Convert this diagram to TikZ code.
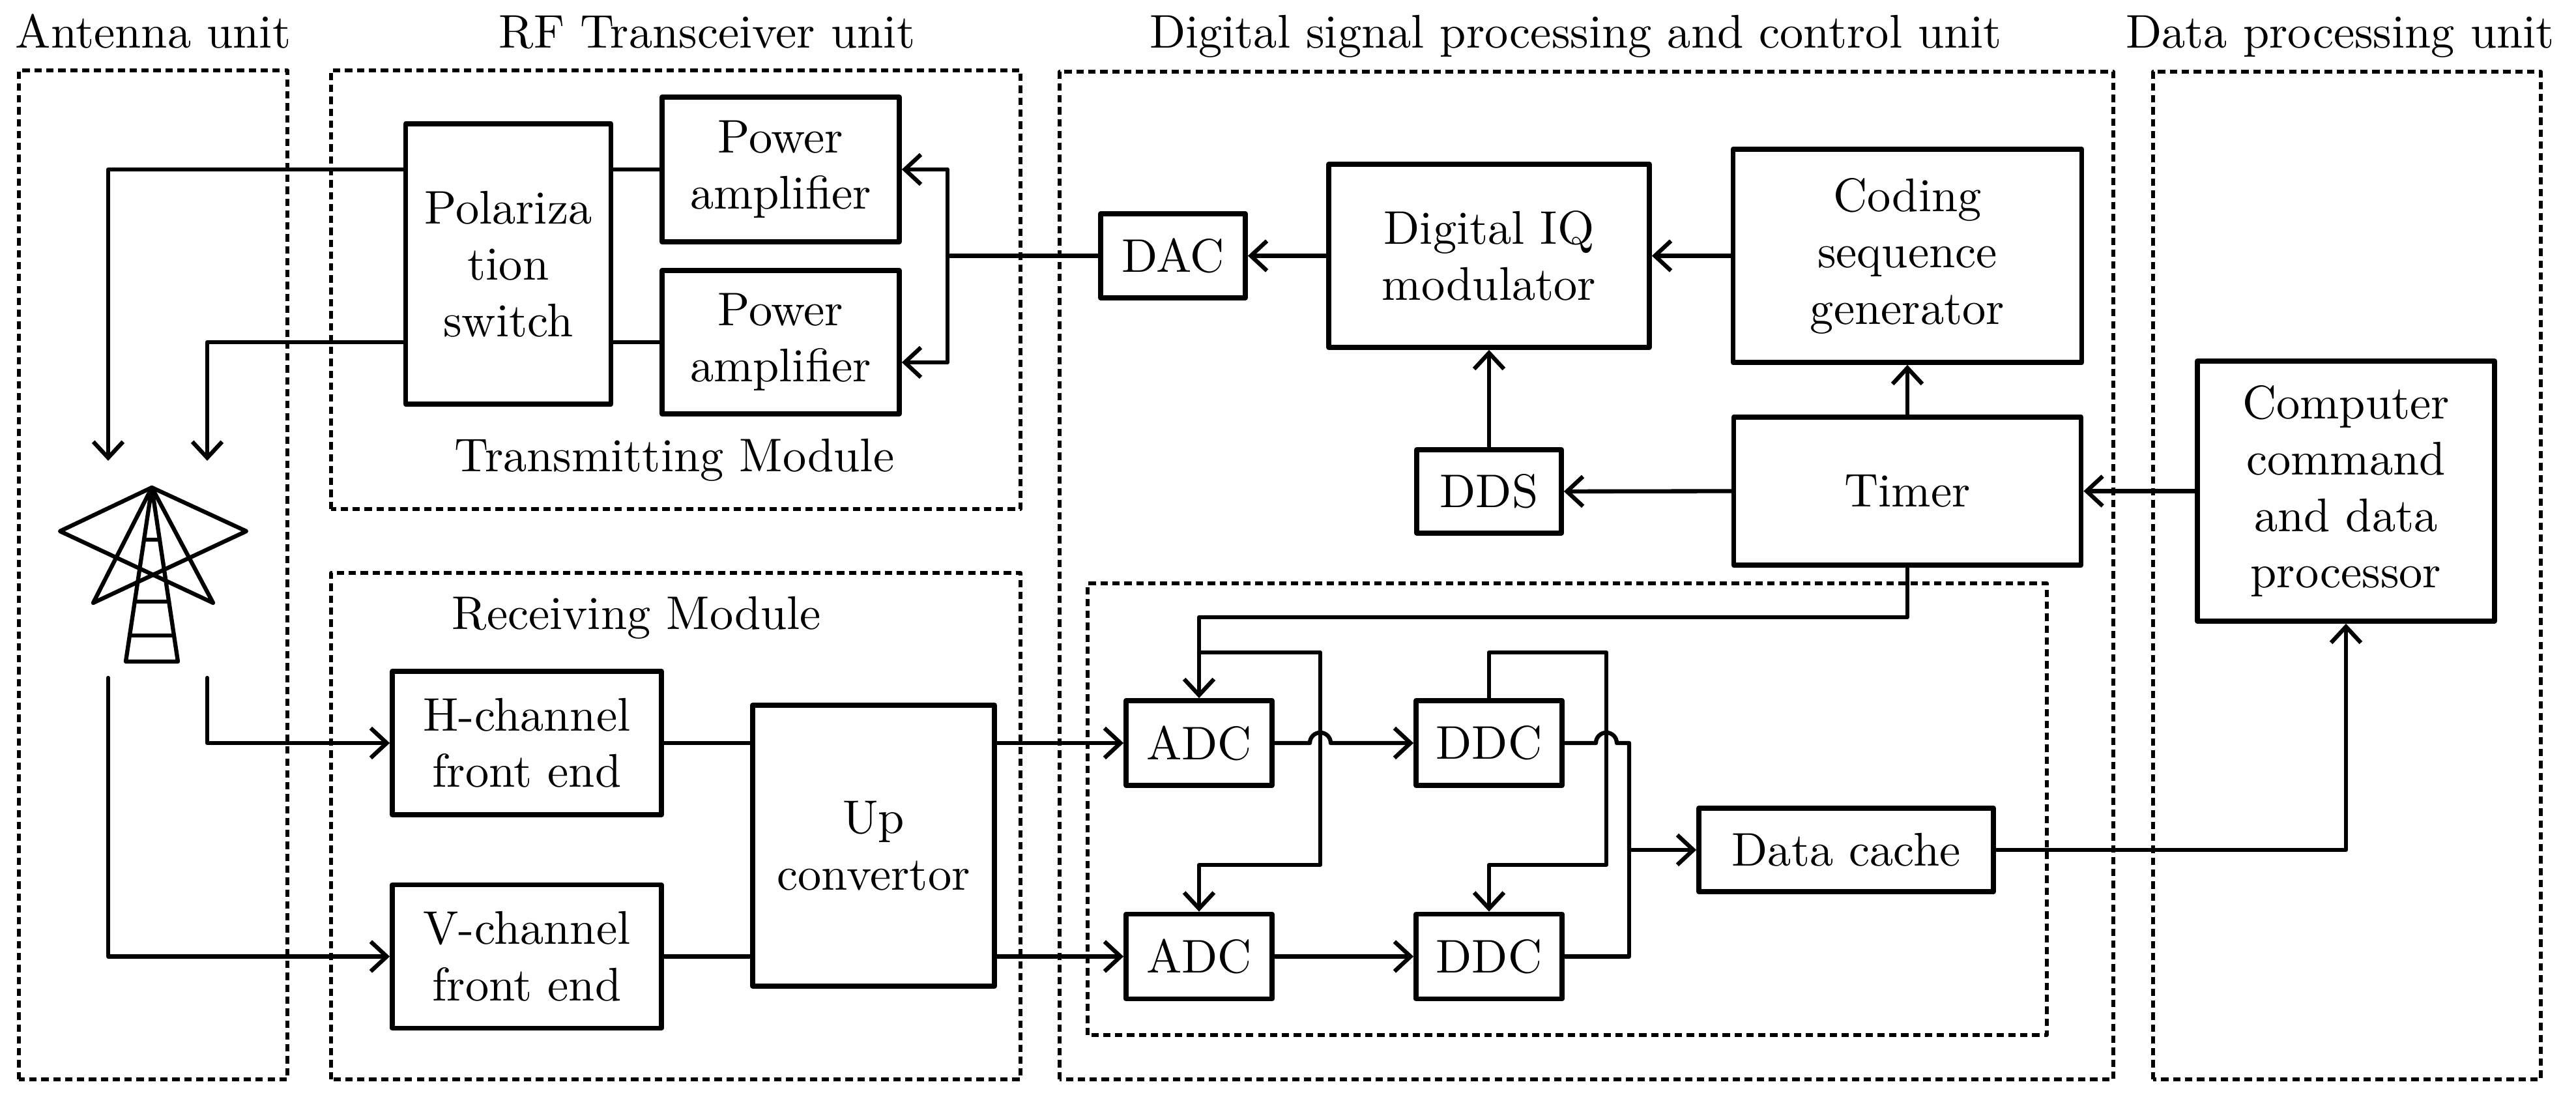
\documentclass[tikz,border=0pt]{standalone}
\usepackage{fontspec}
\usepackage{tikz}
\usetikzlibrary{arrows.meta,calc}

\begin{document}
\begin{tikzpicture}[line cap=round,line join=round,>={Straight Barb[length=3.5pt,width=6.5pt]},x=0.5cm,y=0.5cm,
    font=\fontsize{10.3}{12.3}\selectfont,
    blk/.style={draw,line width=1.1pt,align=center,inner sep=0pt},
    unit/.style={line width=0.8pt,dash pattern=on 1.6pt off 1pt,line cap=butt},
    wire/.style={line width=0.9pt}]
                \useasboundingbox (0,0) rectangle (39.53,16.8);
                % unit frames
                \draw [unit] (0.29,0.24) rectangle (4.41,15.72);
                \draw [unit] (5.08,8.99) rectangle (15.66,15.72);
                \draw [unit] (5.08,0.24) rectangle (15.66,8.01);
                \draw [unit] (16.26,0.24) rectangle (32.43,15.70);
                \draw [unit] (16.69,0.92) rectangle (31.41,7.85);
                \draw [unit] (33.04,0.24) rectangle (38.99,15.70);
                \node [anchor=base] (tant) at (2.35,16.06) {Antenna unit};
                \node [anchor=base] (trf) at (10.85,16.06) {RF Transceiver unit};
                \node [anchor=base] (tdsp) at (24.18,16.06) {Digital signal processing and control unit};
                \node [anchor=base] (tdata) at (35.91,16.06) {Data processing unit};
                \node [anchor=base] (ttx) at (10.35,9.56) {Transmitting Module};
                \node [anchor=base] (trx) at (9.77,7.14) {Receiving Module};
                % blocks
                \node [blk,minimum width=1.575cm,minimum height=2.15cm] (pol) at (7.80,12.75) {Polariza\\tion\\switch};
                \node [blk,minimum width=1.82cm,minimum height=1.11cm] (pa1) at (11.98,14.20) {Power\\amplifier};
                \node [blk,minimum width=1.82cm,minimum height=1.1cm] (pa2) at (11.98,11.55) {Power\\amplifier};
                \node [blk,minimum width=1.11cm,minimum height=0.645cm] (dac) at (18.00,12.875) {DAC};
                \node [blk,minimum width=2.46cm,minimum height=1.405cm] (iq) at (22.85,12.875) {Digital IQ\\modulator};
                \node [blk,minimum width=2.675cm,minimum height=1.635cm] (cod) at (29.27,12.875) {Coding\\sequence\\generator};
                \node [blk,minimum width=1.11cm,minimum height=0.64cm] (dds) at (22.85,9.26) {DDS};
                \node [blk,minimum width=2.665cm,minimum height=1.135cm] (tim) at (29.27,9.265) {Timer};
                \node [blk,minimum width=2.28cm,minimum height=1.995cm] (comp) at (36.00,9.265) {Computer\\command\\and data\\processor};
                \node [blk,minimum width=2.065cm,minimum height=1.1cm] (hch) at (8.085,5.40) {H-channel\\front end};
                \node [blk,minimum width=2.065cm,minimum height=1.1cm] (vch) at (8.085,2.125) {V-channel\\front end};
                \node [blk,minimum width=1.855cm,minimum height=2.155cm] (up) at (13.405,3.825) {Up\\convertor};
                \node [blk,minimum width=1.12cm,minimum height=0.65cm] (adc1) at (18.40,5.40) {ADC};
                \node [blk,minimum width=1.12cm,minimum height=0.65cm] (adc2) at (18.40,2.125) {ADC};
                \node [blk,minimum width=1.12cm,minimum height=0.65cm] (ddc1) at (22.85,5.40) {DDC};
                \node [blk,minimum width=1.12cm,minimum height=0.65cm] (ddc2) at (22.85,2.125) {DDC};
                \node [blk,minimum width=2.26cm,minimum height=0.64cm] (cache) at (28.33,3.76) {Data cache};
                % antenna
                \coordinate (apex) at (2.33,9.32);
                \coordinate (lp) at (0.92,8.65);
                \coordinate (rp) at (3.78,8.65);
                \coordinate (ll) at (1.43,7.55);
                \coordinate (rl) at (3.27,7.55);
                \coordinate (bl) at (1.93,6.65);
                \coordinate (br) at (2.73,6.65);
                \draw [wire] (apex) -- (lp) -- (rl) -- cycle;
                \draw [wire] (apex) -- (rp) -- (ll) -- cycle;
                \draw [wire] (apex) -- (bl) -- (br) -- cycle;
                \foreach \t in {0.3,0.655,0.85}
                    \draw [wire] ($(apex)!\t!(bl)$) -- ($(apex)!\t!(br)$);
                % transmit side
                \coordinate (ant1) at (1.66,9.73);
                \coordinate (ant2) at (3.18,9.73);
                \coordinate (split) at (14.54,12.875);
                \draw [wire,->] (pol.west |- pa1.west) -| (ant1);
                \draw [wire,->] (pol.west |- pa2.west) -| (ant2);
                \draw [wire] (pol.east |- pa1.west) -- (pa1.west);
                \draw [wire] (pol.east |- pa2.west) -- (pa2.west);
                \draw [wire] (dac.west) -- (split);
                \draw [wire,->] (split) |- (pa1.east);
                \draw [wire,->] (split) |- ($(pa2.east)+(0,-0.31)$);
                \draw [wire,->] (iq.west) -- (dac.east);
                \draw [wire,->] (cod.west) -- (iq.east);
                \draw [wire,->] (dds.north) -- (iq.south);
                \draw [wire,->] (tim.north) -- (cod.south);
                \draw [wire,->] (tim.west) -- (dds.east);
                \draw [wire,->] (comp.west) -- (tim.east);
                % receive side
                \coordinate (rxv) at (1.66,6.40);
                \coordinate (rxh) at (3.18,6.40);
                \draw [wire,->] (rxh) |- (hch.west);
                \draw [wire,->] (rxv) |- (vch.west);
                \draw [wire] (hch.east) -- (up.west |- hch.east);
                \draw [wire] (vch.east) -- (up.west |- vch.east);
                \draw [wire,->] (up.east |- adc1.west) -- (adc1.west);
                \draw [wire,->] (up.east |- adc2.west) -- (adc2.west);
                \coordinate (clk) at (18.40,6.79);
                \coordinate (clkr) at (20.26,6.79);
                \coordinate (clkd) at (20.26,3.53);
                \coordinate (lor) at (24.65,6.79);
                \coordinate (lod) at (24.65,3.53);
                \coordinate (hop1) at (20.26,5.40);
                \coordinate (hop2) at (24.65,5.40);
                \coordinate (mrg) at (25.00,3.76);
                \draw [wire,->] (tim.south) -- ++(0,-0.76) -| (adc1.north);
                \draw [wire,->] (clk) -- (clkr) -- (clkd) -| (adc2.north);
                \draw [wire,->] (ddc1.north) |- (lor) -- (lod) -| (ddc2.north);
                \draw [wire,->] (adc1.east) -- ([xshift=-0.8mm]hop1) arc [start angle=180,end angle=0,radius=0.8mm] -- (ddc1.west);
                \draw [wire,->] (adc2.east) -- (ddc2.west);
                \draw [wire] (ddc1.east) -- ([xshift=-0.8mm]hop2) arc [start angle=180,end angle=0,radius=0.8mm] -| (mrg);
                \draw [wire] (ddc2.east) -| (mrg);
                \draw [wire,->] (mrg) -- (cache.west);
                \draw [wire,->] (cache.east) -| (comp.south);
\end{tikzpicture}
\end{document}
